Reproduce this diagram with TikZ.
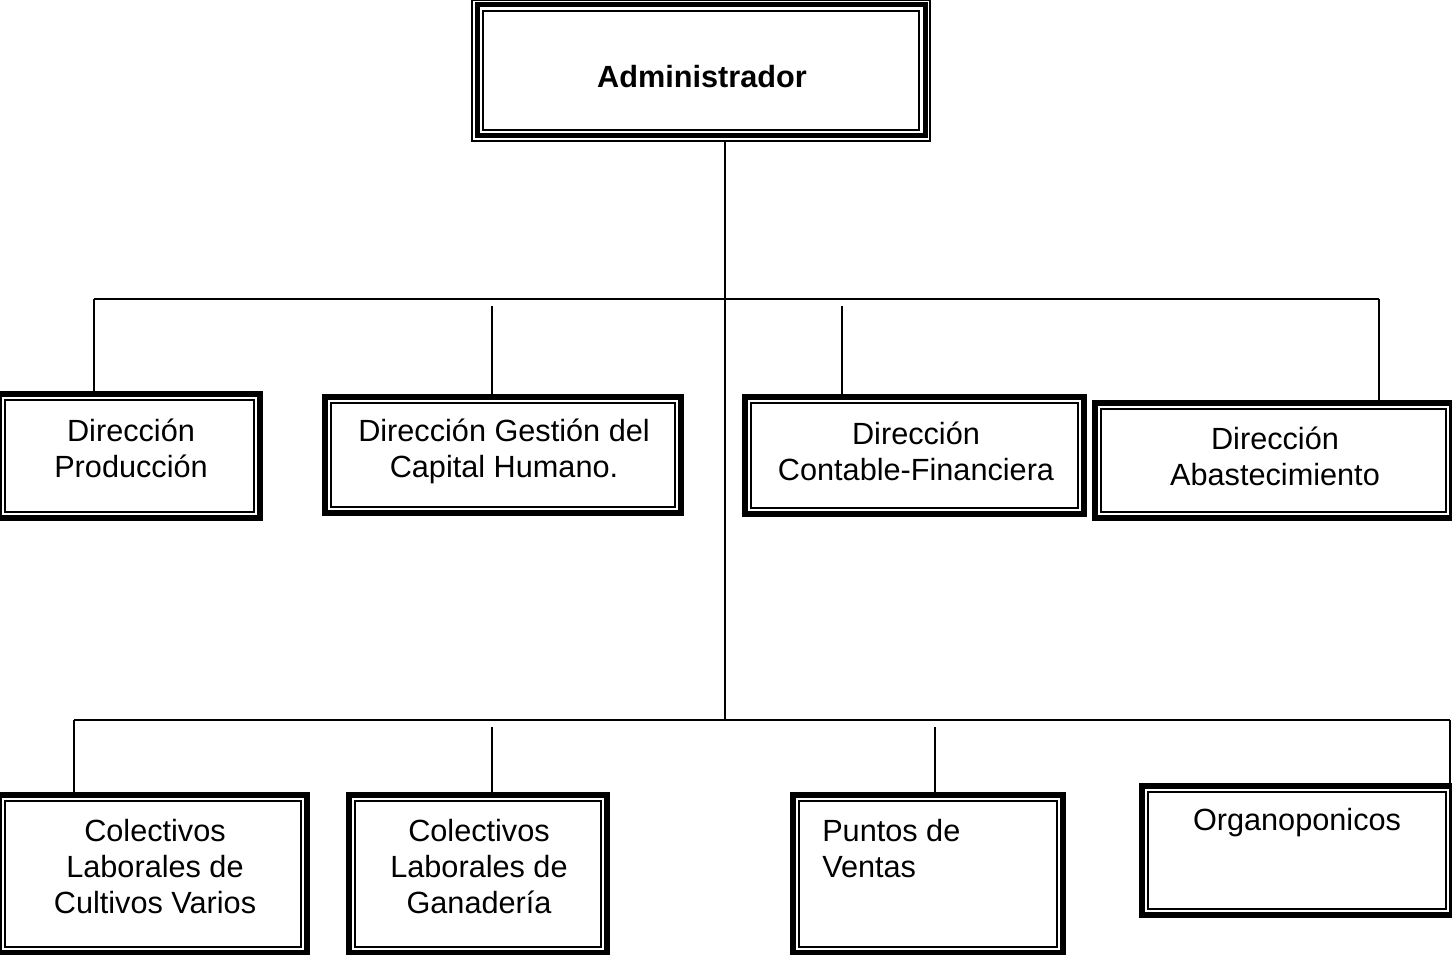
\documentclass[tikz,border=0pt]{standalone}
\usepackage{fontspec}
\setmainfont{Liberation Sans}
\begin{document}
\begin{tikzpicture}[x=0.75pt,y=-0.75pt,
  outerb/.style={draw=black, line width=4.5pt, rectangle, inner sep=0pt, outer sep=0pt},
  innerb/.style={draw=black, line width=1.2pt, rectangle, inner sep=0pt, outer sep=0pt},
  athin/.style={draw=black, line width=1.4pt, rectangle, inner sep=0pt, outer sep=0pt},
  athick/.style={draw=black, line width=3.75pt, rectangle, inner sep=0pt, outer sep=0pt},
  lbl/.style={font=\fontsize{23}{27}\selectfont, align=center, inner sep=0pt},
  conn/.style={draw=black, line width=1.3pt}]
\useasboundingbox (0,0) rectangle (1452,955);
\newcommand\orgbox[5]{%
  \pgfmathsetmacro\cx{(#2+#4)/2}\pgfmathsetmacro\cy{(#3+#5)/2}%
  \pgfmathsetmacro\ww{(#4-#2-6)*0.75}\pgfmathsetmacro\hh{(#5-#3-6)*0.75}%
  \pgfmathsetmacro\iw{(#4-#2-18)*0.75}\pgfmathsetmacro\ih{(#5-#3-18)*0.75}%
  \node[outerb, minimum width=\ww pt, minimum height=\hh pt] (#1) at (\cx,\cy) {};
  \node[innerb, minimum width=\iw pt, minimum height=\ih pt] (#1-in) at (\cx,\cy) {};
}
% Administrador box (thin - thick - thin)
\node[athin, minimum width=343.5pt, minimum height=105.75pt] (admin) at (701,70.5) {};
\node[athick, minimum width=336pt, minimum height=98.25pt] (admin-mid) at (701,70.5) {};
\node[athin, minimum width=327pt, minimum height=89.25pt] (admin-in) at (701,70.5) {};
\node[lbl, font=\fontsize{23}{27}\selectfont\bfseries] (admintxt) at (702,77) {Administrador};

\orgbox{prod}{-4}{391}{263}{521}
\orgbox{gest}{322}{394}{684}{516}
\orgbox{cont}{742}{394}{1087}{517}
\orgbox{abas}{1092}{400}{1455}{521}
\orgbox{cult}{-4}{792}{310}{956}
\orgbox{gana}{346}{792}{610}{956}
\orgbox{punt}{790}{792}{1066}{956}
\orgbox{orga}{1139}{783}{1455}{918}

\node[lbl] (prodtxt) at (131,448) {Dirección\\Producción};
\node[lbl] (gesttxt) at (504,451) {Dirección Gestión del\\Capital Humano.};
\node[lbl] (conttxt) at (916,451) {Dirección\\Contable-Financiera};
\node[lbl] (abastxt) at (1275,456) {Dirección\\Abastecimiento};
\node[lbl] (culttxt) at (155,867) {Colectivos\\Laborales de\\Cultivos Varios};
\node[lbl] (ganatxt) at (479,867) {Colectivos\\Laborales de\\Ganadería};
\node[lbl, align=left, anchor=west] (punttxt) at (822,849) {Puntos de\\Ventas};
\node[lbl] (orgatxt) at (1297,823) {Organoponicos};

% junction coordinates
\coordinate (t1) at (725,299);
\coordinate (t2) at (725,720);
\coordinate (h1l) at (94,299);
\coordinate (h1r) at (1379,299);
\coordinate (g1) at (492,306);
\coordinate (c1) at (842,306);
\coordinate (h2l) at (74,720);
\coordinate (h2r) at (1450,720);
\coordinate (g2) at (492,727);
\coordinate (p2) at (935,727);

\draw[conn] (admin.south -| t1) -- (t2);
\draw[conn] (h1l) -- (h1r);
\draw[conn] (h1l) -- (h1l |- prod.north);
\draw[conn] (g1) -- (g1 |- gest.north);
\draw[conn] (c1) -- (c1 |- cont.north);
\draw[conn] (h1r) -- (h1r |- abas.north);
\draw[conn] (h2l) -- (h2r);
\draw[conn] (h2l) -- (h2l |- cult.north);
\draw[conn] (g2) -- (g2 |- gana.north);
\draw[conn] (p2) -- (p2 |- punt.north);
\draw[conn] (h2r) -- (h2r |- orga.north);
\end{tikzpicture}
\end{document}
